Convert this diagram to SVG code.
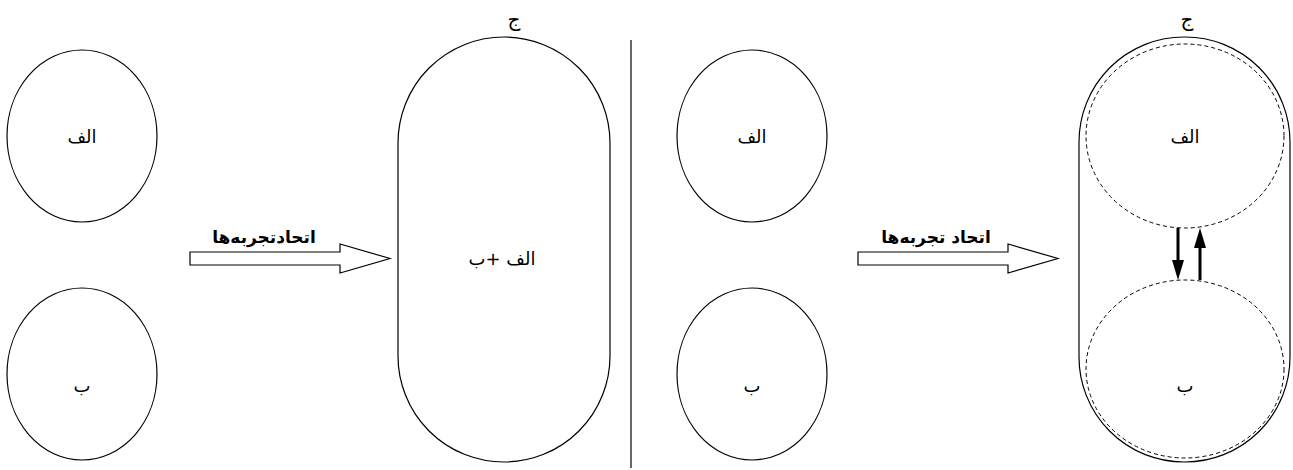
<svg xmlns="http://www.w3.org/2000/svg" width="1293" height="470" viewBox="0 0 1293 470">
<style>
.s{fill:none;stroke:#000;stroke-width:1.2}
.d{fill:none;stroke:#000;stroke-width:1;stroke-dasharray:4,3}
.h{fill:#fff;stroke:#000;stroke-width:1.2}
text{font-family:"DejaVu Sans","Noto Sans",sans-serif;font-size:18px;fill:#000;text-anchor:middle}
.b{font-weight:bold;font-size:17px}
.t{font-size:20px}
</style>
<rect width="1293" height="470" fill="#fff"/>
<g id="a1"><ellipse class="s" cx="82" cy="136" rx="75" ry="86"/><text x="82" y="143">الف</text></g>
<g id="b1"><ellipse class="s" cx="82" cy="374" rx="75" ry="86"/><text x="82" y="392">ب</text></g>
<g id="c1"><rect class="s" x="398" y="37" width="212" height="425" rx="106" ry="106"/><text x="502" y="265">الف +ب</text><text class="t" x="514" y="26">ج</text></g>
<g id="a2"><ellipse class="s" cx="752" cy="136" rx="75" ry="86"/><text x="752" y="143">الف</text></g>
<g id="b2"><ellipse class="s" cx="752" cy="374" rx="75" ry="86"/><text x="752" y="392">ب</text></g>
<g id="c2"><rect class="s" x="1079" y="37" width="211" height="425" rx="105" ry="105"/><text class="t" x="1187" y="26">ج</text>
<ellipse class="d" cx="1185" cy="136" rx="99" ry="92"/><text x="1185" y="143">الف</text>
<ellipse class="d" cx="1185" cy="369" rx="99" ry="89"/><text x="1185" y="392">ب</text></g>
<g id="connectors">
<path class="h" d="M190,252 L340,252 L340,244 L390,258.5 L340,273 L340,265 L190,265 Z"/>
<text class="b" x="264" y="243">اتحادتجربه‌ها</text>
<path class="h" d="M858,252 L1008,252 L1008,244 L1058,258.5 L1008,273 L1008,265 L858,265 Z"/>
<text class="b" x="936" y="243">اتحاد تجربه‌ها</text>
<line x1="631" y1="40" x2="631" y2="468" stroke="#000" stroke-width="1.2"/>
<path d="M1178,228 V262" stroke="#000" stroke-width="3" fill="none"/>
<path d="M1172,260 L1184,260 L1178,280 Z" fill="#000"/>
<path d="M1200,280 V246" stroke="#000" stroke-width="3" fill="none"/>
<path d="M1194,248 L1206,248 L1200,228 Z" fill="#000"/>
</g>
</svg>
